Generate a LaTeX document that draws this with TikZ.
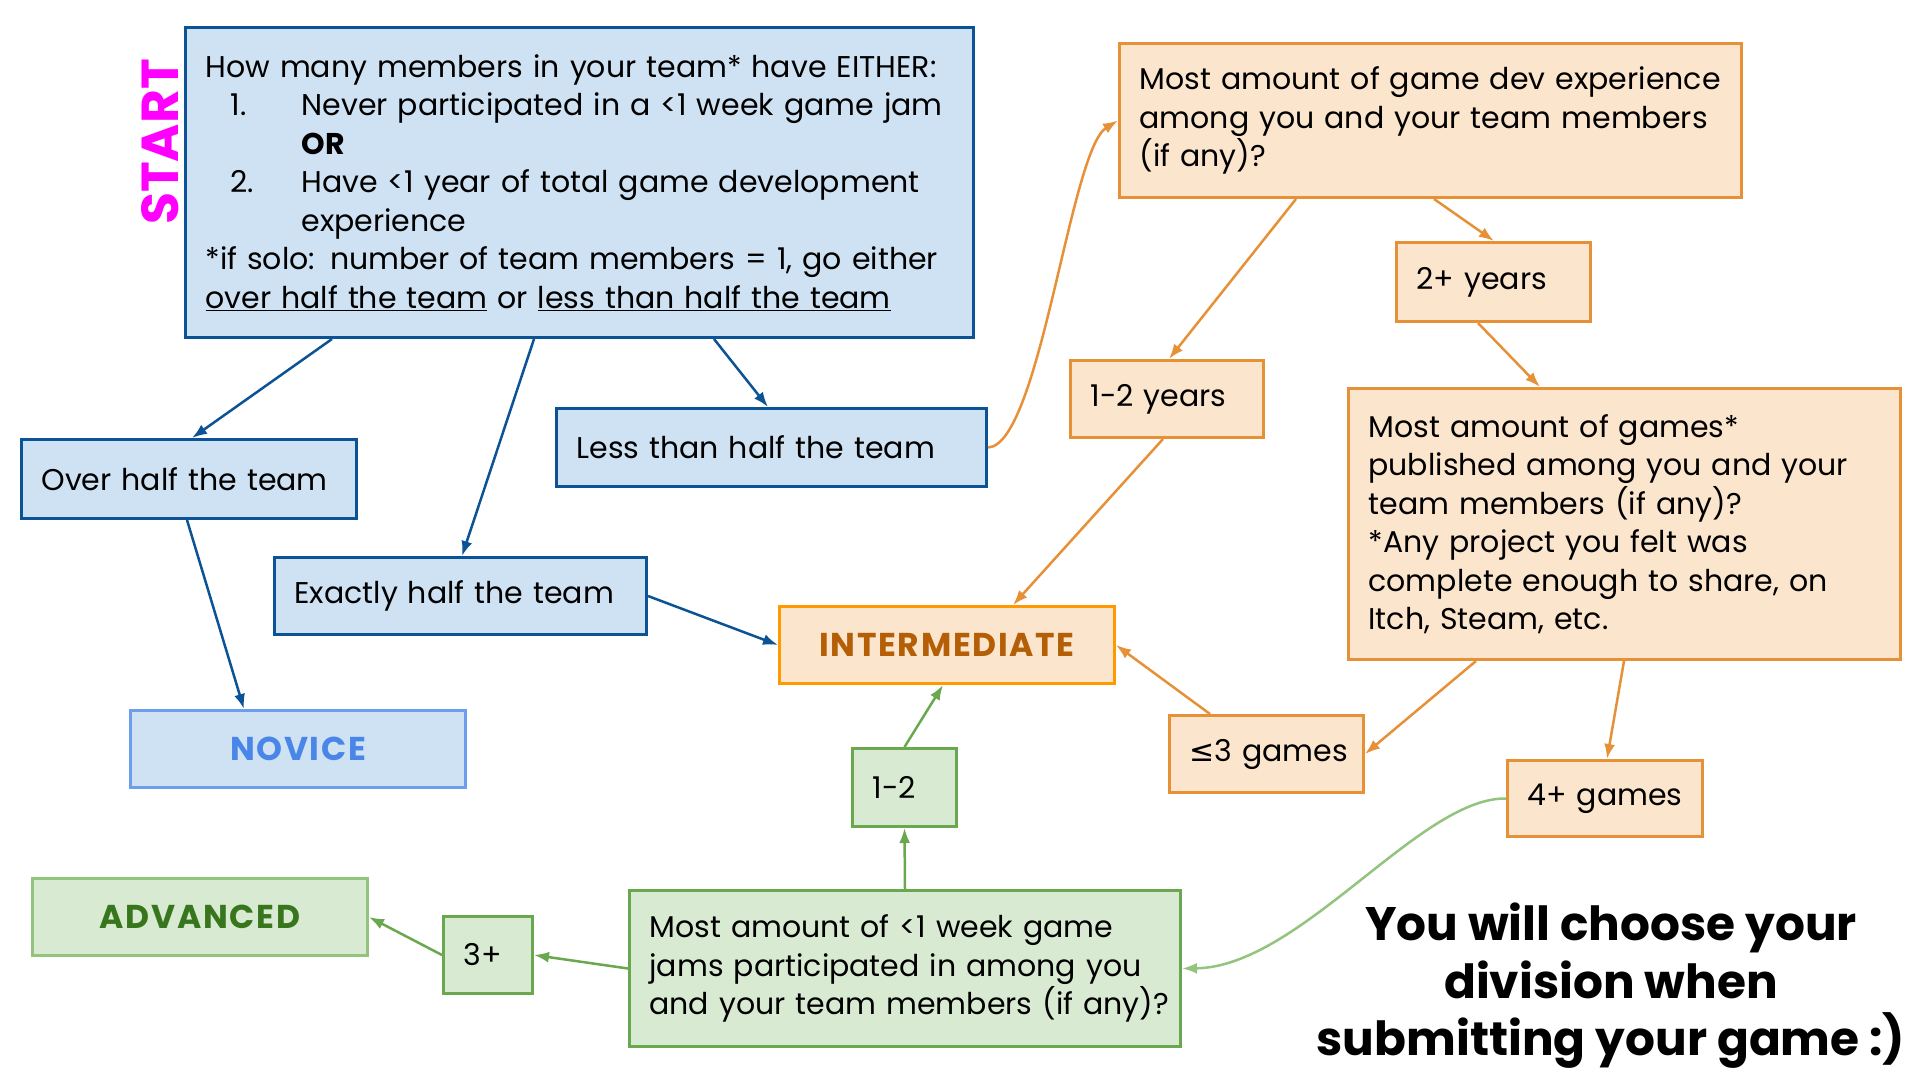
\documentclass[tikz,border=0pt]{standalone}
\usepackage{fontspec}
\setmainfont{Poppins}
\newfontfamily\dejavu{DejaVu Sans}
\usetikzlibrary{arrows.meta}
\definecolor{bluefill}{HTML}{CFE2F3}
\definecolor{blueline}{HTML}{0B5394}
\definecolor{novline}{HTML}{6D9EEB}
\definecolor{novtext}{HTML}{4A86E8}
\definecolor{orfill}{HTML}{FCE5CD}
\definecolor{orline}{HTML}{E69138}
\definecolor{intline}{HTML}{FF9900}
\definecolor{inttext}{HTML}{B45F06}
\definecolor{grfill}{HTML}{D9EAD3}
\definecolor{grline}{HTML}{6AA84F}
\definecolor{advline}{HTML}{93C47D}
\definecolor{advtext}{HTML}{38761D}
\definecolor{startmag}{HTML}{FF00FF}
\begin{document}
\begin{tikzpicture}[x=1pt,y=-1pt,
  box/.style={draw, line width=3pt, anchor=north west, inner xsep=20pt, inner ysep=0pt,
    align=left, font=\fontsize{30}{38.5}\selectfont},
  bluebox/.style={box, fill=bluefill, draw=blueline},
  orbox/.style={box, fill=orfill, draw=orline},
  grbox/.style={box, fill=grfill, draw=grline},
  result/.style={box, align=center, font=\fontsize{33}{33}\selectfont\bfseries\addfontfeatures{LetterSpace=5}},
  bluearrow/.style={draw=blueline, line width=2.5pt, -{Latex[length=15pt,width=11pt]}},
  orarrow/.style={draw=orline, line width=2.5pt, -{Latex[length=15pt,width=11pt]}},
  grarrow/.style={draw=grline, line width=2.5pt, -{Latex[length=15pt,width=11pt]}},
  lgrarrow/.style={draw=advline, line width=2.5pt, -{Latex[length=15pt,width=11pt]}}
]
\useasboundingbox[fill=white] (0,0) rectangle (1920,1080);

% blue part
\node[bluebox, text width=748pt, minimum height=310pt] (start) at (184,26) {\mbox{How many members in your team* have EITHER:}\\
\mbox{\makebox[96pt][l]{\hspace*{25pt}1.}Never participated in a <1 week game jam}\\
\hspace*{96pt}\textbf{OR}\\
\mbox{\makebox[96pt][l]{\hspace*{25pt}2.}Have <1 year of total game development}\\
\hspace*{96pt}experience\\{}\mbox{*if solo: number of team members = 1, go either}\\
\mbox{\underline{over half the team} or \underline{less than half the team}}};
\node[rotate=90, text=startmag, font=\fontsize{52}{52}\selectfont\bfseries] (startlbl) at (160,142) {START};

\node[bluebox, text width=295pt, minimum height=79pt] (over) at (20,438) {\mbox{Over half the team}};
\node[bluebox, text width=390pt, minimum height=78pt] (less) at (555,407) {\mbox{Less than half the team}};
\node[bluebox, text width=332pt, minimum height=77pt] (exact) at (273,556) {\mbox{Exactly half the team}};
\node[result, fill=bluefill, draw=novline, text=novtext, text width=295pt, minimum height=77pt] (novice) at (129,709) {NOVICE};

% orange part
\node[result, fill=orfill, draw=intline, text=inttext, text width=295pt, minimum height=77pt] (inter) at (778,605) {INTERMEDIATE};
\node[orbox, text width=582pt, minimum height=154pt] (dev) at (1118,42) {\mbox{Most amount of game dev experience}\\\mbox{among you and your team members}\\(if any)?};
\node[orbox, text width=154pt, minimum height=79pt] (y2) at (1395,241) {\mbox{2+ years}};
\node[orbox, text width=153pt, minimum height=77pt] (y12) at (1069,359) {\mbox{1-2 years}};
\node[orbox, text width=512pt, minimum height=271pt] (pub) at (1347,387) {\mbox{Most amount of games*}\\\mbox{published among you and your}\\\mbox{team members (if any)?}\\{}\mbox{*Any project you felt was}\\\mbox{complete enough to share, on}\\\mbox{Itch, Steam, etc.}};
\node[orbox, text width=154pt, minimum height=77pt] (le3) at (1168,714) {\mbox{{\dejavu ≤}3 games}};
\node[orbox, text width=155pt, minimum height=76pt] (g4) at (1506,759) {\mbox{4+ games}};

% green part
\node[grbox, text width=511pt, minimum height=156pt] (jam) at (628,889) {\mbox{Most amount of <1 week game}\\\mbox{jams participated in among you}\\\mbox{and your team members (if any)?}};
\node[grbox, text width=64pt, minimum height=78pt] (g12) at (851,747) {\mbox{1-2}};
\node[grbox, text width=49pt, minimum height=77pt] (p3) at (442,915) {\mbox{3+}};
\node[result, fill=grfill, draw=advline, text=advtext, text width=295pt, minimum height=77pt] (adv) at (31,877) {ADVANCED};

\node[align=center, font=\fontsize{47}{57.5}\selectfont\bfseries] (note) at (1611,986) {You will choose your\\division when\\submitting your game :)};

% blue connectors
\draw[bluearrow] ([xshift=148pt]start.south west) -- ([xshift=172pt]over.north west);
\draw[bluearrow] ([xshift=350pt]start.south west) -- ([xshift=189pt]exact.north west);
\draw[bluearrow] ([xshift=530pt]start.south west) -- ([xshift=213pt]less.north west);
\draw[bluearrow] ([xshift=167pt]over.south west) -- ([xshift=115pt]novice.north west);
\draw[bluearrow] (exact.east) -- (inter.west);

% orange connectors
\draw[orarrow] (less.east) .. controls (1040,445) and (1070,150) .. (dev.west);
\draw[orarrow] ([xshift=178pt]dev.south west) -- ([xshift=100pt]y12.north west);
\draw[orarrow] ([xshift=316pt]dev.south west) -- ([xshift=99pt]y2.north west);
\draw[orarrow] ([xshift=83pt]y2.south west) -- ([xshift=193pt]pub.north west);
\draw[orarrow] ([xshift=94pt]y12.south west) -- ([xshift=235pt]inter.north west);
\draw[orarrow] ([xshift=42pt]le3.north west) -- (inter.east);
\draw[orarrow] ([xshift=129pt]pub.south west) -- (le3.east);
\draw[orarrow] ([xshift=277pt]pub.south west) -- ([xshift=101pt]g4.north west);

% green connectors
\draw[lgrarrow] (g4.west) .. controls (1420,797) and (1300,967) .. (jam.east);
\draw[grarrow] (jam.north) -- (g12.south);
\draw[grarrow] (g12.north) -- ([xshift=165pt]inter.south west);
\draw[grarrow] (jam.west) -- (p3.east);
\draw[grarrow] (p3.west) -- (adv.east);
\end{tikzpicture}
\end{document}
